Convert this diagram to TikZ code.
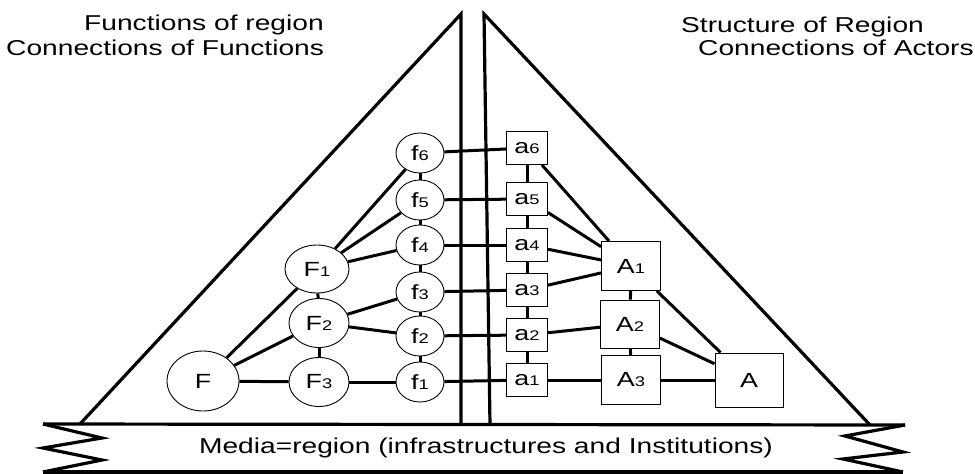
\documentclass[tikz,border=0pt]{standalone}
\usepackage{fontspec}
\setmainfont[FakeStretch=1.31]{Liberation Sans}
\usetikzlibrary{shapes.geometric}
\tikzset{
  ell/.style={ellipse, draw, line width=0.9pt, fill=white, inner sep=0pt, font=\fontsize{20.5}{22}\selectfont},
  box/.style={rectangle, draw, line width=0.9pt, fill=white, inner sep=0pt, font=\fontsize{20.5}{22}\selectfont},
  conn/.style={line width=3pt},
  frame/.style={line width=3.2pt, line join=miter},
  titletext/.style={anchor=base west, inner sep=0pt, font=\fontsize{21.5}{24}\selectfont},
}
\newcommand{\lab}[2]{#1{\fontsize{14}{14}\selectfont #2}}
\begin{document}
\begin{tikzpicture}[x=1pt,y=-1pt]
\useasboundingbox (0,0) rectangle (975,474);
% frame coordinates
\coordinate (apexL) at (461,14);
\coordinate (apexR) at (484,14);
\coordinate (footL) at (80,424);
\coordinate (footR) at (870,425);
\coordinate (vL) at (461,425);
\coordinate (vR) at (490,425);
\coordinate (t1) at (43,424);
\coordinate (t2) at (905,425);
\coordinate (zl1) at (102,438);
\coordinate (zl2) at (43,448);
\coordinate (zl3) at (102,460);
\coordinate (b1) at (43,472);
\coordinate (zr1) at (845,436);
\coordinate (zr2) at (903,452);
\coordinate (zr3) at (843,459);
\coordinate (b2) at (903,472);
% triangles
\draw[frame] (footL) -- (apexL) -- (vL);
\draw[frame] (footR) -- (apexR) -- (vR);
% banner
\draw[frame] (t1) -- (t2);
\draw[frame] (b1) -- (b2);
\draw[frame] (t1) -- (zl1) -- (zl2) -- (zl3) -- (b1);
\draw[frame] (t2) -- (zr1) -- (zr2) -- (zr3) -- (b2);
\node[inner sep=0pt, font=\fontsize{21.5}{24}\selectfont] (media) at (486,448) {Media=region (infrastructures and Institutions)};
% titles
\node[titletext] (t1a) at (84,30) {Functions of region};
\node[titletext] (t1b) at (6,55) {Connections of Functions};
\node[titletext] (t2a) at (681,32) {Structure of Region};
\node[titletext] (t2b) at (698,55) {Connections of Actors};
% function nodes
\node[ell, minimum width=72pt, minimum height=60pt] (F) at (203,381) {F};
\node[ell, minimum width=64pt, minimum height=48pt] (F1) at (317,269) {\lab{F}{1}};
\node[ell, minimum width=60pt, minimum height=49pt] (F2) at (319,323) {\lab{F}{2}};
\node[ell, minimum width=60pt, minimum height=49pt] (F3) at (319,382) {\lab{F}{3}};
\foreach \i/\y in {6/153,5/200,4/245,3/292,2/336,1/382}{
  \node[ell, minimum width=48pt, minimum height=40pt] (f\i) at (420,\y) {\lab{f}{\i}};
}
\foreach \i/\y in {6/148,5/199,4/245,3/290,2/335,1/380}{
  \node[box, minimum width=41pt, minimum height=33pt] (a\i) at (527,\y) {\lab{a}{\i}};
}
\node[box, minimum width=59pt, minimum height=49pt] (A1) at (631,266) {\lab{A}{1}};
\node[box, minimum width=59pt, minimum height=48pt] (A2) at (630,324) {\lab{A}{2}};
\node[box, minimum width=59pt, minimum height=49pt] (A3) at (631,380) {\lab{A}{3}};
\node[box, minimum width=68pt, minimum height=54pt] (A) at (749,380) {A};
% connectors
\draw[conn] (F) -- (F1);
\draw[conn] (F) -- (F2);
\draw[conn] (F) -- (F3);
\draw[conn] (F1) -- (F2);
\draw[conn] (F2) -- (F3);
\draw[conn] (F1) -- (f6);
\draw[conn] (F1) -- (f5);
\draw[conn] (F1) -- (f4);
\draw[conn] (F2) -- (f3);
\draw[conn] (F2) -- (f2);
\draw[conn] (F3) -- (f1);
\draw[conn] (f1) -- (f2);
\draw[conn] (f2) -- (f3);
\draw[conn] (f3) -- (f4);
\draw[conn] (f4) -- (f5);
\draw[conn] (f5) -- (f6);
\foreach \i in {1,...,6}{ \draw[conn] (f\i) -- (a\i); }
\draw[conn] (a1) -- (a2);
\draw[conn] (a2) -- (a3);
\draw[conn] (a3) -- (a4);
\draw[conn] (a4) -- (a5);
\draw[conn] (a5) -- (a6);
\draw[conn] (a6) -- (A1);
\draw[conn] (a5) -- (A1);
\draw[conn] (a4) -- (A1);
\draw[conn] (a3) -- (A1);
\draw[conn] (a2) -- (A2);
\draw[conn] (a1) -- (A3);
\draw[conn] (A1) -- (A2);
\draw[conn] (A2) -- (A3);
\draw[conn] (A1) -- (A);
\draw[conn] (A2) -- (A);
\draw[conn] (A3) -- (A);
\end{tikzpicture}
\end{document}
